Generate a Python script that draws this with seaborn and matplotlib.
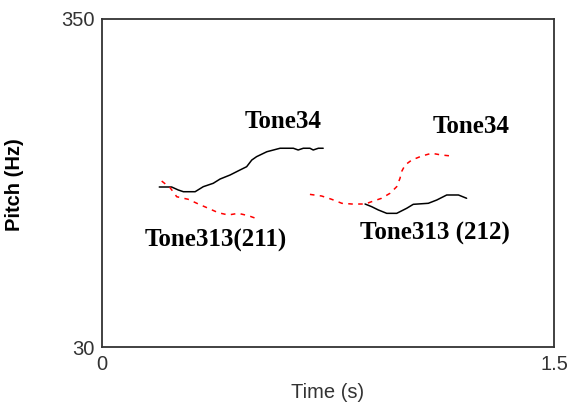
import matplotlib
matplotlib.use("Agg")
import matplotlib.pyplot as plt
import seaborn as sns

# Pitch contours (time in s, pitch in Hz)
tone34_a_t = [0.190, 0.231, 0.253, 0.270, 0.309, 0.336, 0.369, 0.392, 0.425, 0.458,
              0.480, 0.497, 0.513, 0.547, 0.591, 0.635, 0.651, 0.668, 0.690, 0.701,
              0.718, 0.734]
tone34_a_hz = [186.1, 186.1, 183.2, 181.5, 181.5, 186.4, 189.7, 193.9, 197.8, 202.7,
               205.9, 212.4, 215.7, 220.5, 223.9, 223.9, 222.2, 223.9, 223.9, 222.2,
               223.9, 223.9]

tone313_a_t = [0.198, 0.226, 0.248, 0.286, 0.320, 0.353, 0.386, 0.419, 0.452, 0.486, 0.519]
tone313_a_hz = [191.9, 185.4, 176.6, 174.1, 169.5, 165.3, 161.0, 158.8, 160.4, 158.1, 154.6]

tone34_b_t = [0.690, 0.729, 0.762, 0.796, 0.829, 0.873, 0.895, 0.928, 0.956, 0.978,
              0.989, 0.994, 1.006, 1.028, 1.061, 1.094, 1.127, 1.161]
tone34_b_hz = [178.9, 177.3, 174.1, 170.2, 169.5, 169.5, 171.8, 175.1, 180.0, 186.4,
               194.6, 201.0, 207.6, 212.4, 216.3, 219.0, 217.3, 216.3]

tone313_b_t = [0.873, 0.895, 0.917, 0.945, 0.978, 1.011, 1.033, 1.083, 1.111, 1.144,
               1.183, 1.210]
tone313_b_hz = [169.5, 166.9, 163.7, 160.4, 160.4, 165.3, 169.2, 170.2, 173.4, 178.3,
                178.3, 175.1]

x_ticks = [0, 1.5]
x_tick_labels = ["0", "1.5"]
y_ticks = [30, 350]
y_tick_labels = ["30", "350"]

sns.set_style("white")
plt.rcParams["font.family"] = ["Liberation Sans", "DejaVu Sans"]

fig = plt.figure(figsize=(5.69, 4.05), dpi=100)
ax = fig.add_axes([0.1793, 0.1432, 0.7943, 0.8099])

black_kw = dict(color="black", linewidth=1.1, sort=False, estimator=None)
red_kw = dict(color="#ff0000", linewidth=1.1, sort=False, estimator=None)

sns.lineplot(x=tone34_a_t, y=tone34_a_hz, ax=ax, **black_kw)
sns.lineplot(x=tone313_b_t, y=tone313_b_hz, ax=ax, **black_kw)
l1 = sns.lineplot(x=tone313_a_t, y=tone313_a_hz, ax=ax, **red_kw).lines[-1]
l1.set_linestyle((0, (3, 3.5)))
l2 = sns.lineplot(x=tone34_b_t, y=tone34_b_hz, ax=ax, **red_kw).lines[-1]
l2.set_linestyle((0, (3, 3.5)))

label_kw = dict(family=["Liberation Serif", "DejaVu Serif"], fontweight="bold",
                fontsize=18, ha="center", va="center", color="black")
ax.text(0.600, 250, "Tone34", **label_kw)
ax.text(1.224, 245, "Tone34", **label_kw)
ax.text(0.378, 134, "Tone313(211)", **label_kw)
ax.text(1.106, 141, "Tone313 (212)", **label_kw)

ax.set_xlim(0, 1.5)
ax.set_ylim(30, 350)
ax.set_xticks(x_ticks)
ax.set_xticklabels(x_tick_labels)
ax.set_yticks(y_ticks)
ax.set_yticklabels(y_tick_labels)
ax.tick_params(axis="both", which="both", length=5, width=1.2, color="#333333",
               labelsize=14.5, labelcolor="#333333", pad=1, direction="out")
ax.tick_params(axis="y", length=4)

for sp in ax.spines.values():
    sp.set_visible(True)
    sp.set_color("#333333")
    sp.set_linewidth(1.3)

ax.set_xlabel("Time (s)", fontsize=14.5, color="#333333", labelpad=6)
ax.set_ylabel("Pitch (Hz)", fontsize=14.5, fontweight="bold", color="black")
ax.yaxis.set_label_coords(-0.172, 0.494)

fig.savefig("out.png", dpi=100, facecolor="white")
